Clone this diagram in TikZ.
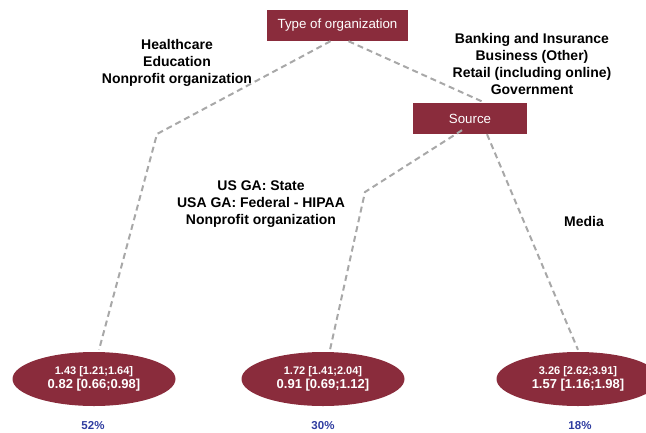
\documentclass[tikz,border=0pt]{standalone}
\usepackage{fontspec}
\setmainfont{Liberation Sans}
\usetikzlibrary{shapes.geometric}
\definecolor{boxred}{RGB}{138,44,60}
\definecolor{linegray}{RGB}{168,168,168}
\definecolor{pctblue}{RGB}{46,60,160}
\tikzset{
  redbox/.style={draw=none, fill=boxred, text=white, inner sep=0pt, font=\fontsize{13.3}{15}\selectfont},
  leaf/.style={ellipse, draw=none, fill=boxred, text=white, minimum width=163pt, minimum height=54pt, inner sep=0pt, align=center, font=\bfseries},
  conn/.style={draw=linegray, line width=2pt, dash pattern=on 6pt off 4pt},
  lbl/.style={align=center, font=\bfseries\fontsize{14}{17.3}\selectfont},
  pct/.style={text=pctblue, font=\bfseries\fontsize{11.5}{13}\selectfont}
}
\begin{document}
\begin{tikzpicture}[x=1pt,y=-1pt]
\useasboundingbox (0,0) rectangle (646,432);
\node[redbox, minimum width=141pt, minimum height=31pt] (type) at (337.5,25.5) {Type of organization};
\node[redbox, minimum width=114pt, minimum height=31pt] (src) at (470,118.5) {Source};
\node[leaf] (e1) at (94,379) {{\fontsize{11}{14}\selectfont 1.43 [1.21;1.64]}\\[2pt]{\fontsize{13}{15}\selectfont 0.82 [0.66;0.98]}};
\node[leaf] (e2) at (323,379) {{\fontsize{11}{14}\selectfont 1.72 [1.41;2.04]}\\[2pt]{\fontsize{13}{15}\selectfont 0.91 [0.69;1.12]}};
\node[leaf] (e3) at (578,379) {{\fontsize{11}{14}\selectfont 3.26 [2.62;3.91]}\\[2pt]{\fontsize{13}{15}\selectfont 1.57 [1.16;1.98]}};
\coordinate (b1) at (157,134);
\coordinate (b2) at (365,192);
\draw[conn] ([xshift=-7pt]type.south) -- (b1) -- ([xshift=5pt,yshift=2pt]e1.north);
\draw[conn] ([xshift=11pt]type.south) -- ([xshift=15pt]src.north);
\draw[conn] ([xshift=-8pt,yshift=4pt]src.south) -- (b2) -- ([xshift=7pt,yshift=2pt]e2.north);
\draw[conn] ([xshift=17pt]src.south) -- ([yshift=2pt]e3.north);
\node[lbl] (l1) at (177,63) {Healthcare\\Education\\Nonprofit organization};
\node[lbl] (l2) at (532,64) {Banking and Insurance\\Business (Other)\\Retail (including online)\\Government};
\node[lbl] (l3) at (261,204) {US GA: State\\USA GA: Federal - HIPAA\\Nonprofit organization};
\node[lbl] (l4) at (584,221) {Media};
\node[pct] (p1) at (93,426) {52\%};
\node[pct] (p2) at (323,426) {30\%};
\node[pct] (p3) at (580,426) {18\%};
\end{tikzpicture}
\end{document}
